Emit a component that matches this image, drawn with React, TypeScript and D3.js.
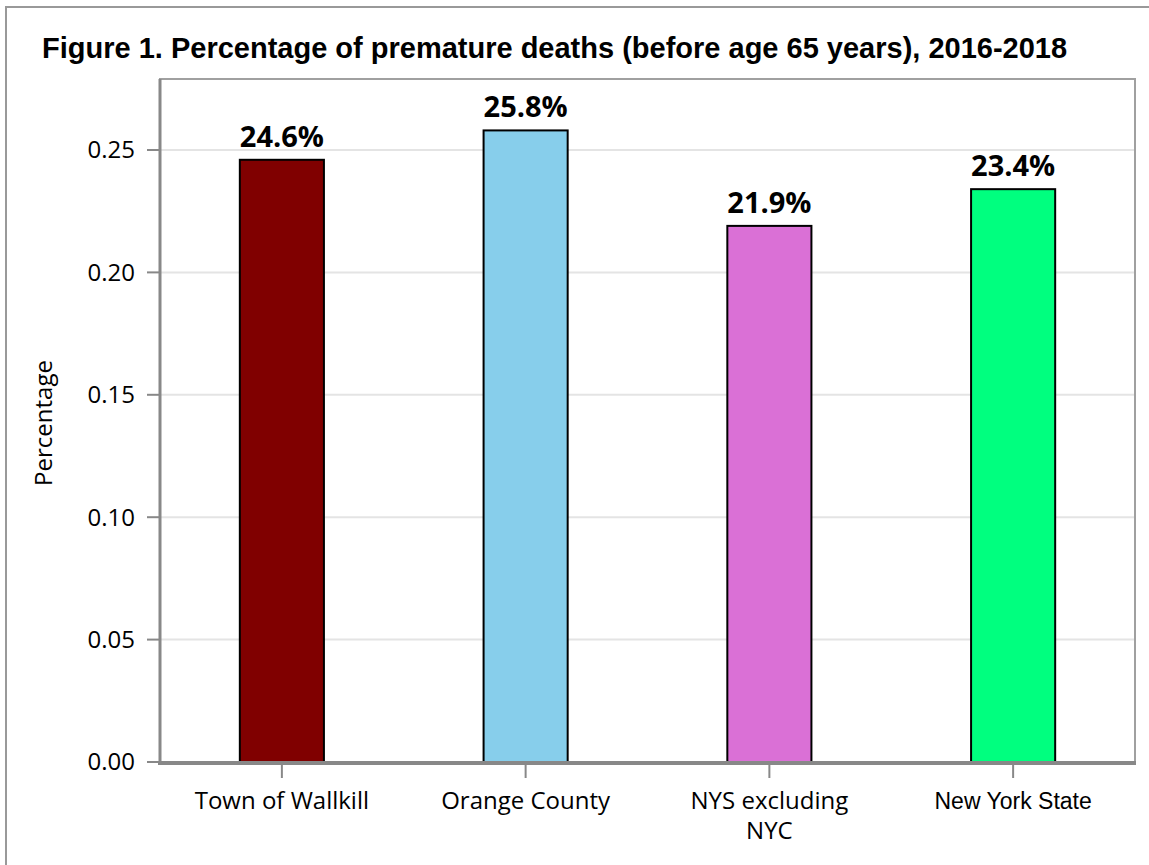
import React from "react";
import * as d3 from "d3";

const categories: string[][] = [["Town of Wallkill"], ["Orange County"], ["NYS excluding", "NYC"], ["New York State"]];
const categoryKeys = ["Town of Wallkill", "Orange County", "NYS excluding NYC", "New York State"];
const values = [0.246, 0.258, 0.219, 0.234];
const valueLabels = ["24.6%", "25.8%", "21.9%", "23.4%"];
const barColors = ["#800000", "#87ceeb", "#da70d6", "#00ff7f"];
const yTicks = [0, 0.05, 0.1, 0.15, 0.2, 0.25];
const title = "Figure 1. Percentage of premature deaths (before age 65 years), 2016-2018";
const yTitle = "Percentage";

const W = 1149, H = 865;
const plot = { left: 160, right: 1135, top: 79, bottom: 762 };

export default function App() {
  const x = d3.scaleBand<string>().domain(categoryKeys).range([plot.left, plot.right]).paddingInner(0.655).paddingOuter(0.3275);
  const y = d3.scaleLinear().domain([0, 0.25]).range([plot.bottom, 150]);
  const sans = "'Open Sans', 'Noto Sans', sans-serif";
  return (
    <svg width={W} height={H} style={{ position: "absolute", left: 0, top: 0, background: "#fff" }}>
      <rect x={0} y={0} width={W} height={H} fill="#fff" />
      <rect x={6} y={7} width={W + 10} height={H + 10} fill="none" stroke="#999" strokeWidth={2} />
      <text x={42} y={58} fontFamily="'Liberation Sans', Arial, sans-serif" fontWeight="bold" fontSize={29} fill="#000">{title}</text>
      {yTicks.map((t) => (
        <line key={"g" + t} x1={plot.left} x2={plot.right} y1={y(t)} y2={y(t)} stroke="#e4e4e4" strokeWidth={2} />
      ))}
      <rect x={plot.left} y={plot.top} width={plot.right - plot.left} height={plot.bottom - plot.top} fill="none" stroke="#a0a0a0" strokeWidth={2} />
      {values.map((v, i) => (
        <rect key={"b" + i} x={x(categoryKeys[i])!} y={y(v)} width={x.bandwidth()} height={plot.bottom - y(v)} fill={barColors[i]} stroke="#000" strokeWidth={2} />
      ))}
      {values.map((v, i) => (
        <text key={"l" + i} x={x(categoryKeys[i])! + x.bandwidth() / 2} y={y(v) - 13} textAnchor="middle" fontFamily={sans} fontWeight="bold" fontSize={29} fill="#000">{valueLabels[i]}</text>
      ))}
      <line x1={plot.left} x2={plot.left} y1={plot.top} y2={plot.bottom + 3} stroke="#888" strokeWidth={3} />
      <line x1={plot.left - 2} x2={plot.right + 1} y1={plot.bottom + 1} y2={plot.bottom + 1} stroke="#888" strokeWidth={4} />
      {yTicks.map((t) => (
        <g key={"t" + t}>
          <line x1={plot.left - 13} x2={plot.left} y1={y(t)} y2={y(t)} stroke="#888" strokeWidth={2} />
          <text x={135} y={y(t)} dy="0.35em" textAnchor="end" fontFamily={sans} fontSize={24} fill="#000">{t.toFixed(2)}</text>
        </g>
      ))}
      {categoryKeys.map((c, i) => {
        const cx = x(c)! + x.bandwidth() / 2;
        return (
          <g key={"x" + i}>
            <line x1={cx} x2={cx} y1={plot.bottom + 3} y2={plot.bottom + 16} stroke="#888" strokeWidth={2} />
            {categories[i].map((line, j) => (
              <text key={j} x={cx} y={809 + j * 30} textAnchor="middle" fontFamily={i === 3 ? "'Liberation Sans', Arial, sans-serif" : sans} fontSize={i === 3 ? 23 : 24} fill="#000">{line}</text>
            ))}
          </g>
        );
      })}
      <text transform={`translate(52, 423) rotate(-90)`} textAnchor="middle" fontFamily={sans} fontSize={24} fill="#000">{yTitle}</text>
    </svg>
  );
}
